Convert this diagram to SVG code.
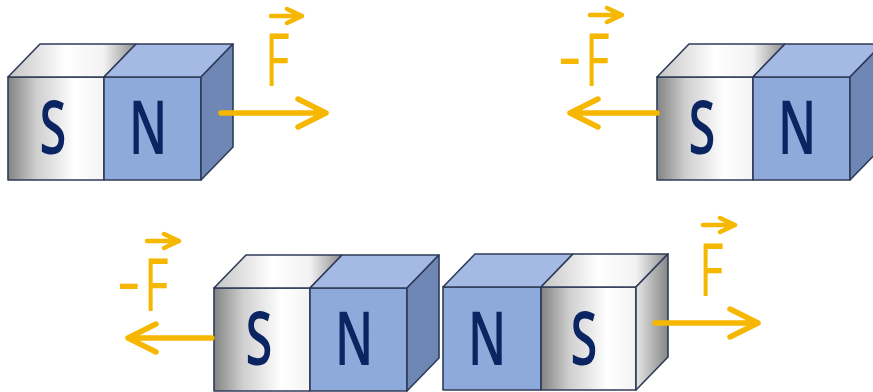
<svg xmlns="http://www.w3.org/2000/svg" xmlns:xlink="http://www.w3.org/1999/xlink" width="873" height="392" viewBox="0 0 873 392">
  <style>
    .edge { stroke: #2f3b58; stroke-width: 1.6; stroke-linejoin: round; }
    .nFront { fill: #8eaadb; }
    .nTop { fill: #a4b9e3; }
    .nSide { fill: #6f87b4; }
    .pole { font-family: "Open Sans", "Liberation Sans", sans-serif; font-weight: 600; font-size: 74px; fill: #0b2462; text-anchor: middle; }
    .force { fill: none; stroke: #f6b700; stroke-width: 5.5; stroke-linecap: round; stroke-linejoin: round; }
    .vec { fill: none; stroke: #f6b700; stroke-width: 4.5; stroke-linecap: round; stroke-linejoin: round; }
    .flabel { font-family: "Open Sans", "Liberation Sans", sans-serif; font-weight: 400; font-size: 73px; fill: #f6b700; }
  </style>
  <defs>
    <linearGradient id="silverFront" x1="0" y1="0" x2="1" y2="0">
      <stop offset="0" stop-color="#838383"/>
      <stop offset="0.3" stop-color="#cfcfcf"/>
      <stop offset="0.7" stop-color="#ffffff"/>
      <stop offset="1" stop-color="#f3f3f3"/>
    </linearGradient>
    <linearGradient id="silverTop" x1="0" y1="0" x2="1" y2="0">
      <stop offset="0" stop-color="#c4c4c4"/>
      <stop offset="0.45" stop-color="#ffffff"/>
      <stop offset="0.75" stop-color="#f2f2f2"/>
      <stop offset="1" stop-color="#8c8c8c"/>
    </linearGradient>
    <linearGradient id="silverSide" x1="0" y1="0" x2="1" y2="0">
      <stop offset="0" stop-color="#e6e6e6"/>
      <stop offset="1" stop-color="#878787"/>
    </linearGradient>
    <!-- bar magnet, south half on the left -->
    <g id="blockSN">
      <rect class="edge" x="0" y="0" width="96" height="103" fill="url(#silverFront)"/>
      <rect class="edge nFront" x="96" y="0" width="97" height="103"/>
      <polygon class="edge" points="0,0 32,-33 128,-33 96,0" fill="url(#silverTop)"/>
      <polygon class="edge nTop" points="96,0 128,-33 225,-33 193,0"/>
      <polygon class="edge nSide" points="193,0 225,-33 225,70 193,103"/>
    </g>
    <!-- bar magnet, north half on the left -->
    <g id="blockNS">
      <rect class="edge nFront" x="0" y="0" width="98" height="103"/>
      <rect class="edge" x="98" y="0" width="95" height="103" fill="url(#silverFront)"/>
      <polygon class="edge nTop" points="0,0 32,-33 130,-33 98,0"/>
      <polygon class="edge" points="98,0 130,-33 225,-33 193,0" fill="url(#silverTop)"/>
      <polygon class="edge" points="193,0 225,-33 225,70 193,103" fill="url(#silverSide)"/>
    </g>
  </defs>

  <rect width="873" height="392" fill="#ffffff"/>

  <g id="magnet-top-left" transform="translate(8,77)">
    <use xlink:href="#blockSN"/>
    <text class="pole" transform="translate(45,77) scale(0.66,1)">S</text>
    <text class="pole" transform="translate(140,77) scale(0.66,1)">N</text>
  </g>

  <g id="magnet-top-right" transform="translate(657,77)">
    <use xlink:href="#blockSN"/>
    <text class="pole" transform="translate(45,77) scale(0.66,1)">S</text>
    <text class="pole" transform="translate(140,77) scale(0.66,1)">N</text>
  </g>

  <g id="magnet-bottom-left" transform="translate(214,288)">
    <use xlink:href="#blockSN"/>
    <text class="pole" transform="translate(45,77) scale(0.66,1)">S</text>
    <text class="pole" transform="translate(140,77) scale(0.66,1)">N</text>
  </g>

  <g id="magnet-bottom-right" transform="translate(443,287)">
    <use xlink:href="#blockNS"/>
    <text class="pole" transform="translate(44,78) scale(0.66,1)">N</text>
    <text class="pole" transform="translate(141,78) scale(0.66,1)">S</text>
  </g>

  <g id="forces">
    <!-- force arrows -->
    <path class="force" d="M221,113 H326 M298,99 L326,113 L298,127"/>
    <path class="force" d="M657,113 H570 M598,99 L570,113 L598,127"/>
    <path class="force" d="M212,338 H128 M156,324 L128,338 L156,352"/>
    <path class="force" d="M655,323 H758 M730,309 L758,323 L730,337"/>
    <!-- vector marks over the labels -->
    <path class="vec" d="M271,16 H302 M287,9 L302,16 L287,23"/>
    <path class="vec" d="M590,15 H622 M607,8 L622,15 L607,22"/>
    <path class="vec" d="M147,241 H179 M164,234 L179,241 L164,248"/>
    <path class="vec" d="M703,225 H735 M720,218 L735,225 L720,232"/>
    <!-- force labels: the F glyph is narrowed, the dash keeps its width -->
    <text class="flabel" x="265" y="86" textLength="24.6" lengthAdjust="spacingAndGlyphs">F</text>
    <text class="flabel" y="86"><tspan x="558" dy="-5">-</tspan><tspan x="585" dy="5" textLength="24.6" lengthAdjust="spacingAndGlyphs">F</tspan></text>
    <text class="flabel" y="311"><tspan x="117" dy="-5">-</tspan><tspan x="144" dy="5" textLength="24.6" lengthAdjust="spacingAndGlyphs">F</tspan></text>
    <text class="flabel" x="699" y="296" textLength="24.6" lengthAdjust="spacingAndGlyphs">F</text>
  </g>
</svg>
